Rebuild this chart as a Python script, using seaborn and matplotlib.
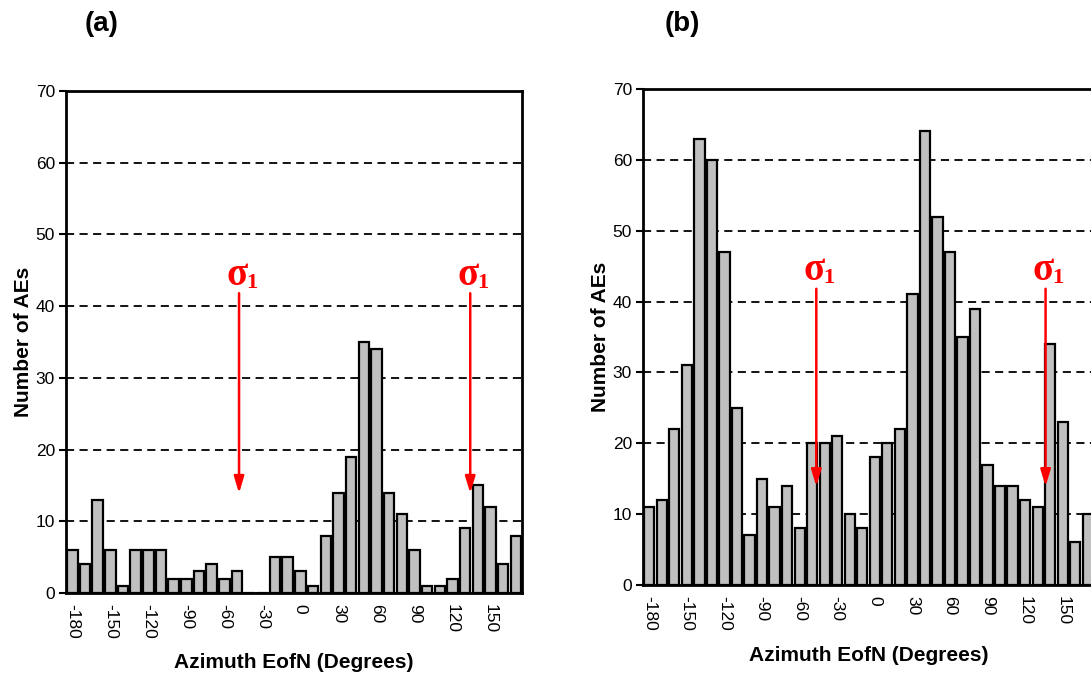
import numpy as np
import pandas as pd
import matplotlib
matplotlib.use("Agg")
import matplotlib.pyplot as plt
import seaborn as sns

# ---- data ----
azimuth_bins = list(range(-180, 180, 10))  # 36 categories
counts_a = [6, 4, 13, 6, 1, 6, 6, 6, 2, 2, 3, 4, 2, 3, 0, 0, 5, 5,
            3, 1, 8, 14, 19, 35, 34, 14, 11, 6, 1, 1, 2, 9, 15, 12, 4, 8]
counts_b = [11, 12, 22, 31, 63, 60, 47, 25, 7, 15, 11, 14, 8, 20, 20, 21, 10, 8,
            18, 20, 22, 41, 64, 52, 47, 35, 39, 17, 14, 14, 12, 11, 34, 23, 6, 10]
tick_labels = [str(v) for v in range(-180, 180, 30)]
y_ticks = list(range(0, 80, 10))
panel_titles = ["(a)", "(b)"]
sigma_arrow_x_a = [13.16, 31.41]   # category-index positions of sigma1 arrows
sigma_arrow_x_b = [13.33, 31.63]
arrow_top, arrow_tip = 41.8, 13.9

sns.set_style("white")
plt.rcParams['font.family'] = ['Liberation Sans', 'DejaVu Sans']
plt.rcParams['text.color'] = 'black'
plt.rcParams['axes.labelcolor'] = 'black'
plt.rcParams['xtick.color'] = 'black'
plt.rcParams['ytick.color'] = 'black'

fig = plt.figure(figsize=(10.91, 6.78), dpi=100)
ax_a = fig.add_axes([0.0605, 0.1254, 0.4180, 0.7404])
ax_b = fig.add_axes([0.5894, 0.1372, 0.4134, 0.7316])

def draw_panel(ax, counts, arrow_xs, xlabelpad):
    df = pd.DataFrame({"azimuth": azimuth_bins, "count": counts})
    ax.yaxis.grid(True, color="black", linestyle=(0, (4.5, 3)), linewidth=1.3)
    ax.set_axisbelow(True)
    sns.barplot(data=df, x="azimuth", y="count", order=azimuth_bins,
                color="#C0C0C0", saturation=1, edgecolor="black",
                linewidth=1.6, width=0.82, ax=ax)
    ax.set_xlim(-0.5, len(azimuth_bins) - 0.5)
    ax.set_ylim(0, 70)
    ax.set_yticks(y_ticks)
    ax.set_yticklabels([str(v) for v in y_ticks], fontsize=12.5)
    label_pos = [azimuth_bins.index(int(t)) for t in tick_labels]
    ax.set_xticks(label_pos)
    ax.set_xticklabels(tick_labels, rotation=-90, fontsize=12.5)
    ax.set_xticks(np.arange(-0.5, len(azimuth_bins), 1.0), minor=True)
    ax.tick_params(axis="x", which="major", length=0, pad=8)
    ax.tick_params(axis="x", which="minor", length=5, width=1.5, color="black", direction="out")
    ax.tick_params(axis="y", which="major", length=5, width=1.5, color="black", direction="out", left=True, pad=3)
    for s in ax.spines.values():
        s.set_visible(True)
        s.set_color("black")
        s.set_linewidth(2)
    ax.set_xlabel("Azimuth EofN (Degrees)", fontsize=15, fontweight="bold", labelpad=xlabelpad)
    ax.set_ylabel("Number of AEs", fontsize=15, fontweight="bold", labelpad=2)
    for xa in arrow_xs:
        ax.annotate("", xy=(xa, arrow_tip), xytext=(xa, arrow_top),
                    arrowprops=dict(arrowstyle="-|>,head_length=1.0,head_width=0.3",
                                    color="red", lw=1.8, shrinkA=0, shrinkB=0))
        ax.annotate("σ", xy=(xa, arrow_top), xytext=(6, 6), textcoords="offset points",
                    ha="right", va="baseline", fontsize=28, fontweight="bold",
                    color="red", family="Liberation Serif")
        ax.annotate("1", xy=(xa, arrow_top), xytext=(5, 4), textcoords="offset points",
                    ha="left", va="baseline", fontsize=16, fontweight="bold",
                    color="red", family="Liberation Serif")

draw_panel(ax_a, counts_a, sigma_arrow_x_a, 10)
draw_panel(ax_b, counts_b, sigma_arrow_x_b, 11)

fig.text(102 / 1091, 1 - 24 / 678, panel_titles[0], fontsize=20, fontweight="bold", ha="center", va="center")
fig.text(682 / 1091, 1 - 24 / 678, panel_titles[1], fontsize=20, fontweight="bold", ha="center", va="center")

fig.savefig("out.png", dpi=100)
